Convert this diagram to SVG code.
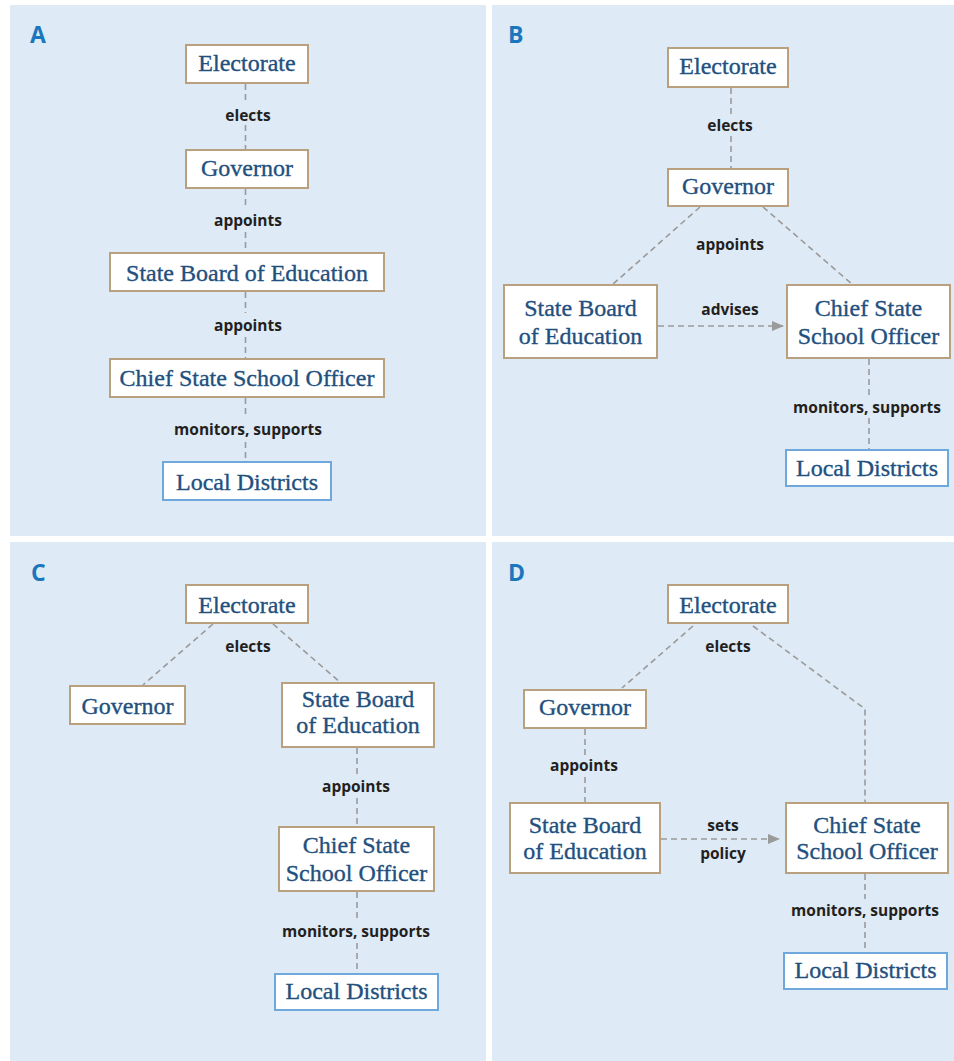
<svg xmlns="http://www.w3.org/2000/svg" width="954" height="1061" viewBox="0 0 954 1061">
<style>
.bg{fill:#ffffff}
.panel{fill:#deeaf6}
.box{fill:#ffffff;stroke:#b9a17f;stroke-width:2}
.ld{fill:#ffffff;stroke:#6ea8dc;stroke-width:2}
.nt{font-family:"Liberation Serif","Times New Roman",serif;font-size:24px;fill:#22507e;stroke:#22507e;stroke-width:0.35;text-anchor:middle}
.lbl{font-family:"Open Sans","Liberation Sans",sans-serif;font-weight:700;font-size:15.5px;fill:#231f20;text-anchor:middle}
.letter{font-family:"Open Sans","Liberation Sans",sans-serif;font-weight:700;font-size:23px;fill:#1b76bd}
.dash{fill:none;stroke:#9a9a9a;stroke-width:1.6;stroke-dasharray:6 4}
</style>
<defs>
<marker id="arr" markerWidth="12" markerHeight="10" refX="11" refY="5" orient="auto" markerUnits="userSpaceOnUse">
<path d="M0,0 L12,5 L0,10 Z" fill="#9a9a9a"/>
</marker>
</defs>
<rect class="bg" x="0" y="0" width="954" height="1061"/>
<g id="panels">
<rect class="panel" x="10" y="5" width="476" height="531"/>
<rect class="panel" x="492" y="5" width="462" height="531"/>
<rect class="panel" x="10" y="542" width="476" height="519"/>
<rect class="panel" x="492" y="542" width="462" height="519"/>
<text class="letter" x="30" y="43">A</text>
<text class="letter" x="508" y="43">B</text>
<text class="letter" x="31" y="581">C</text>
<text class="letter" x="508" y="581">D</text>
</g>
<g id="connectors">
<!-- A -->
<line class="dash" x1="245.5" y1="84" x2="245.5" y2="104"/>
<line class="dash" x1="245.5" y1="125" x2="245.5" y2="150"/>
<line class="dash" x1="245.5" y1="189" x2="245.5" y2="209"/>
<line class="dash" x1="245.5" y1="232" x2="245.5" y2="253"/>
<line class="dash" x1="245.5" y1="292" x2="245.5" y2="313"/>
<line class="dash" x1="245.5" y1="337" x2="245.5" y2="359"/>
<line class="dash" x1="245.5" y1="398" x2="245.5" y2="418"/>
<line class="dash" x1="245.5" y1="442" x2="245.5" y2="462"/>
<text class="lbl" x="248" y="120.5">elects</text>
<text class="lbl" x="248" y="226">appoints</text>
<text class="lbl" x="248" y="330.5">appoints</text>
<text class="lbl" x="248" y="435">monitors, supports</text>
<!-- B -->
<line class="dash" x1="731" y1="88" x2="731" y2="114"/>
<line class="dash" x1="731" y1="136" x2="731" y2="169"/>
<line class="dash" x1="700" y1="207" x2="612" y2="285"/>
<line class="dash" x1="763" y1="207" x2="853" y2="285"/>
<line class="dash" x1="658" y1="326" x2="783" y2="326" marker-end="url(#arr)"/>
<line class="dash" x1="869" y1="359" x2="869" y2="396"/>
<line class="dash" x1="869" y1="418" x2="869" y2="450"/>
<text class="lbl" x="730" y="130.5">elects</text>
<text class="lbl" x="730" y="250">appoints</text>
<text class="lbl" x="730" y="315">advises</text>
<text class="lbl" x="867" y="413">monitors, supports</text>
<!-- C -->
<line class="dash" x1="213" y1="624" x2="143" y2="685"/>
<line class="dash" x1="273" y1="624" x2="341" y2="683"/>
<line class="dash" x1="357" y1="748" x2="357" y2="776"/>
<line class="dash" x1="357" y1="798" x2="357" y2="827"/>
<line class="dash" x1="357" y1="892" x2="357" y2="921"/>
<line class="dash" x1="357" y1="943" x2="357" y2="974"/>
<text class="lbl" x="248" y="651.5">elects</text>
<text class="lbl" x="356" y="791.5">appoints</text>
<text class="lbl" x="356" y="937">monitors, supports</text>
<!-- D -->
<line class="dash" x1="693" y1="626" x2="622" y2="688"/>
<polyline class="dash" points="753,626 865,709 865,803"/>
<line class="dash" x1="585" y1="729" x2="585" y2="755"/>
<line class="dash" x1="585" y1="777" x2="585" y2="803"/>
<line class="dash" x1="661" y1="839" x2="779" y2="839" marker-end="url(#arr)"/>
<line class="dash" x1="865" y1="874" x2="865" y2="899"/>
<line class="dash" x1="865" y1="922" x2="865" y2="953"/>
<text class="lbl" x="728" y="651.5">elects</text>
<text class="lbl" x="584" y="770.5">appoints</text>
<text class="lbl" x="723" y="830.5">sets</text>
<text class="lbl" x="723" y="859">policy</text>
<text class="lbl" x="865" y="915.5">monitors, supports</text>
</g>
<!-- Panel A nodes -->
<g id="a-electorate"><rect class="box" x="186" y="45" width="122" height="38"/><text class="nt" x="247" y="70.5">Electorate</text></g>
<g id="a-governor"><rect class="box" x="186" y="150" width="122" height="38"/><text class="nt" x="247" y="176">Governor</text></g>
<g id="a-sbe"><rect class="box" x="110" y="253" width="274" height="38"/><text class="nt" x="247" y="280.5">State Board of Education</text></g>
<g id="a-csso"><rect class="box" x="110" y="359" width="274" height="38"/><text class="nt" x="247" y="385.5">Chief State School Officer</text></g>
<g id="a-ld"><rect class="ld" x="163" y="462" width="168" height="38"/><text class="nt" x="247" y="490">Local Districts</text></g>
<!-- Panel B nodes -->
<g id="b-electorate"><rect class="box" x="668" y="48" width="120" height="39"/><text class="nt" x="728" y="74">Electorate</text></g>
<g id="b-governor"><rect class="box" x="668" y="169" width="120" height="37"/><text class="nt" x="728" y="194">Governor</text></g>
<g id="b-sbe"><rect class="box" x="504" y="285" width="153" height="73"/><text class="nt" x="580.5" y="316">State Board</text><text class="nt" x="580.5" y="344">of Education</text></g>
<g id="b-csso"><rect class="box" x="787" y="285" width="163" height="73"/><text class="nt" x="868.5" y="316">Chief State</text><text class="nt" x="868.5" y="344">School Officer</text></g>
<g id="b-ld"><rect class="ld" x="786" y="450" width="162" height="36"/><text class="nt" x="867" y="476">Local Districts</text></g>
<!-- Panel C nodes -->
<g id="c-electorate"><rect class="box" x="186" y="585" width="122" height="38"/><text class="nt" x="247" y="612.5">Electorate</text></g>
<g id="c-governor"><rect class="box" x="70" y="686" width="115" height="38"/><text class="nt" x="127.5" y="714">Governor</text></g>
<g id="c-sbe"><rect class="box" x="282" y="683" width="152" height="64"/><text class="nt" x="358" y="707">State Board</text><text class="nt" x="358" y="733">of Education</text></g>
<g id="c-csso"><rect class="box" x="279" y="827" width="155" height="64"/><text class="nt" x="356.5" y="853">Chief State</text><text class="nt" x="356.5" y="880.5">School Officer</text></g>
<g id="c-ld"><rect class="ld" x="275" y="974" width="163" height="36"/><text class="nt" x="356.5" y="999">Local Districts</text></g>
<!-- Panel D nodes -->
<g id="d-electorate"><rect class="box" x="668" y="585" width="120" height="38"/><text class="nt" x="728" y="612.5">Electorate</text></g>
<g id="d-governor"><rect class="box" x="524" y="690" width="122" height="38"/><text class="nt" x="585" y="714.5">Governor</text></g>
<g id="d-sbe"><rect class="box" x="510" y="803" width="150" height="70"/><text class="nt" x="585" y="833">State Board</text><text class="nt" x="585" y="859">of Education</text></g>
<g id="d-csso"><rect class="box" x="786" y="803" width="162" height="70"/><text class="nt" x="867" y="833">Chief State</text><text class="nt" x="867" y="859">School Officer</text></g>
<g id="d-ld"><rect class="ld" x="784" y="953" width="163" height="36"/><text class="nt" x="865.5" y="978">Local Districts</text></g>
</svg>
